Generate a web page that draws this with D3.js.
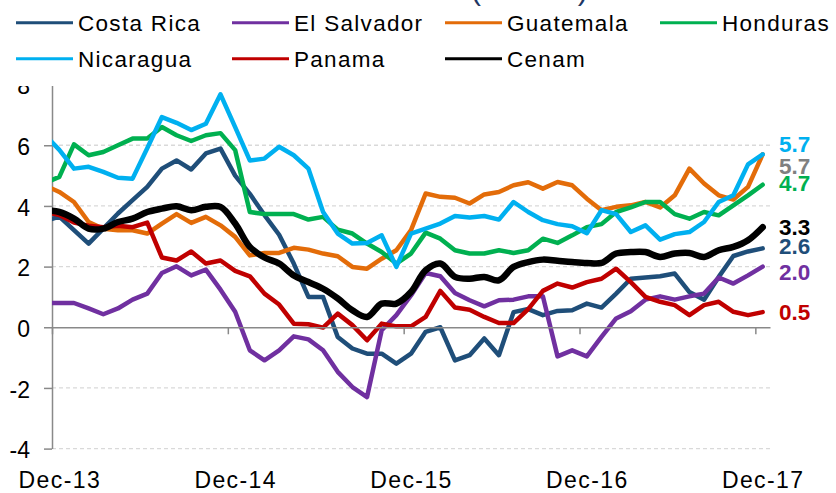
<!DOCTYPE html>
<html>
<head>
<meta charset="utf-8">
<script src="https://cdn.jsdelivr.net/npm/d3@7"></script>
<style>
body { margin: 0; background: #fff; }
svg { display: block; font-family: Arial, "Liberation Sans", sans-serif; }
</style>
</head>
<body>
<svg width="836" height="493"></svg>
<script>
// monthly categories, Nov-13 sits left of the axis and is clipped away
var months = ["Nov-13","Dec-13",
  "Jan-14","Feb-14","Mar-14","Apr-14","May-14","Jun-14","Jul-14","Aug-14","Sep-14","Oct-14","Nov-14","Dec-14",
  "Jan-15","Feb-15","Mar-15","Apr-15","May-15","Jun-15","Jul-15","Aug-15","Sep-15","Oct-15","Nov-15","Dec-15",
  "Jan-16","Feb-16","Mar-16","Apr-16","May-16","Jun-16","Jul-16","Aug-16","Sep-16","Oct-16","Nov-16","Dec-16",
  "Jan-17","Feb-17","Mar-17","Apr-17","May-17","Jun-17","Jul-17","Aug-17","Sep-17","Oct-17","Nov-17","Dec-17"];

var costaRica = [3.5,3.65,3.2,2.76,3.25,3.75,4.19,4.63,5.23,5.5,5.2,5.73,5.89,5.0,4.4,3.7,3.05,2.1,1.0,1.0,-0.32,-0.7,-0.87,-0.87,-1.2,-0.87,-0.15,0.0,-1.09,-0.92,-0.37,-0.92,0.5,0.6,0.4,0.54,0.56,0.78,0.65,1.11,1.6,1.64,1.68,1.77,1.16,0.91,1.66,2.35,2.5,2.6];
var elSalvador = [0.8,0.8,0.8,0.62,0.43,0.62,0.91,1.11,1.79,2.01,1.71,1.9,1.24,0.51,-0.76,-1.09,-0.76,-0.3,-0.4,-0.76,-1.47,-1.97,-2.3,-0.1,0.4,1.05,1.79,1.68,1.13,0.89,0.69,0.89,0.91,1.02,1.02,-0.96,-0.76,-0.96,-0.32,0.29,0.53,0.91,1.02,0.91,1.02,1.11,1.64,1.44,1.71,2.0];
var guatemala = [4.68,4.46,4.13,3.47,3.25,3.2,3.2,3.09,3.42,3.73,3.44,3.64,3.36,2.98,2.37,2.45,2.45,2.62,2.56,2.43,2.34,1.99,1.93,2.26,2.54,3.2,4.41,4.3,4.27,4.08,4.38,4.46,4.68,4.78,4.57,4.79,4.68,4.24,3.86,3.97,4.02,4.13,3.95,4.35,5.23,4.74,4.35,4.21,4.63,5.7];
var honduras = [4.75,4.96,6.03,5.67,5.78,6.0,6.22,6.22,6.6,6.33,6.14,6.33,6.4,5.84,3.8,3.73,3.73,3.73,3.55,3.64,3.22,3.09,2.76,2.48,2.1,2.43,3.12,2.92,2.54,2.43,2.43,2.54,2.45,2.54,2.92,2.78,3.03,3.3,3.4,3.8,3.95,4.13,4.13,3.73,3.58,3.8,3.69,4.02,4.35,4.7];
var nicaragua = [6.35,5.85,5.23,5.29,5.12,4.93,4.9,5.9,6.93,6.74,6.5,6.71,7.68,6.6,5.5,5.56,5.95,5.67,5.23,3.8,3.09,2.76,2.78,3.03,1.99,3.09,3.25,3.42,3.67,3.62,3.67,3.55,4.13,3.8,3.53,3.4,3.33,3.1,3.86,3.73,3.14,3.36,2.89,3.07,3.14,3.47,4.13,4.35,5.37,5.7];
var panama = [3.8,3.7,3.45,3.35,3.3,3.35,3.3,3.45,2.3,2.2,2.5,2.1,2.2,1.86,1.68,1.11,0.75,0.12,0.1,-0.01,0.45,0.07,-0.43,0.12,0.03,0.03,0.34,1.2,0.65,0.58,0.34,0.14,0.14,0.6,1.2,1.44,1.31,1.49,1.6,1.93,1.49,1.0,0.84,0.73,0.4,0.73,0.84,0.51,0.4,0.5];
var cenam = [3.85,3.8,3.58,3.25,3.25,3.47,3.58,3.8,3.91,3.99,3.86,3.97,3.97,3.42,2.65,2.3,2.1,1.71,1.49,1.27,0.95,0.56,0.34,0.78,0.78,1.16,1.88,2.1,1.66,1.6,1.66,1.55,1.99,2.15,2.23,2.19,2.15,2.12,2.12,2.43,2.48,2.48,2.32,2.43,2.45,2.32,2.54,2.65,2.87,3.3];

var yTicks = [-4, -2, 0, 2, 4, 6, 8];
var xLabelMonths = ["Dec-13", "Dec-14", "Dec-15", "Dec-16", "Dec-17"];
var endLabels = ["5.7", "5.7", "4.7", "3.3", "2.6", "2.0", "0.5"];
var endValues = [5.7, 5.7, 4.7, 3.3, 2.6, 2.0, 0.5];
var endColors = ["#00B0F0", "#808080", "#00B050", "#000000", "#1F4E79", "#7030A0", "#C00000"];
var titleText = "(% YoY)";

var series = [
  {name: "Costa Rica", values: costaRica, color: "#1F4E79", w: 4.5},
  {name: "El Salvador", values: elSalvador, color: "#7030A0", w: 4.5},
  {name: "Guatemala", values: guatemala, color: "#E36C09", w: 4.5},
  {name: "Honduras", values: honduras, color: "#00B050", w: 4.5},
  {name: "Nicaragua", values: nicaragua, color: "#00B0F0", w: 4.5},
  {name: "Panama", values: panama, color: "#C00000", w: 4.5},
  {name: "Cenam", values: cenam, color: "#000000", w: 6.5}
];

// layout
var legendX = [16, 232, 445, 660, 16, 232, 445];
var legendY = [22.7, 22.7, 22.7, 22.7, 58.7, 58.7, 58.7];
var endNudge = [-10, 12, -2, 0, -3, 5, 0];
var axisGray = "#898989";

var svg = d3.select("svg");

var x = d3.scaleLinear().domain([0.5, 49.5]).range([52, 770]);
var y = d3.scaleLinear().domain([-4, 8]).range([448.6, 84.6]);

// grid
svg.append("g").selectAll("line")
  .data(yTicks.filter(function(d) { return d != 0; }))
  .enter().append("line")
    .attr("x1", x(0.5)).attr("x2", x(49.5))
    .attr("y1", function(d) { return y(d); })
    .attr("y2", function(d) { return y(d); })
    .attr("stroke", "#d9d9d9")
    .attr("stroke-width", 1.3)
    .attr("stroke-dasharray", "4,3");

// y axis
var yAxis = svg.append("g")
  .attr("transform", "translate(" + x(0.5) + ",0)")
  .call(d3.axisLeft(y).tickValues(yTicks).tickSize(8).tickSizeOuter(0).tickPadding(14)
    .tickFormat(function(d) { return String(d); }));
yAxis.selectAll("path, line").attr("stroke", axisGray).attr("stroke-width", 1.5);
yAxis.selectAll("text")
  .attr("fill", "#000")
  .attr("dy", "0.4em")
  .style("font-size", "23px")
  .style("font-family", "Arial, 'Liberation Sans', sans-serif");

// lines, clipped to plot area
svg.append("clipPath").attr("id", "plotclip")
  .append("rect").attr("x", x(0.5)).attr("y", 0).attr("width", x(49.5) - x(0.5)).attr("height", 493);

var plot = svg.append("g").attr("clip-path", "url(#plotclip)");

series.forEach(function(s) {
  var line = d3.line()
    .x(function(d, i) { return x(i); })
    .y(function(d) { return y(d); })
    .curve(s.name == "Cenam" ? d3.curveCatmullRom.alpha(0.5) : d3.curveLinear);
  plot.append("path")
    .datum(s.values)
    .attr("d", line)
    .attr("fill", "none")
    .attr("stroke", s.color)
    .attr("stroke-width", s.w)
    .attr("stroke-linejoin", "round")
    .attr("stroke-linecap", "round");
});

// x axis at zero, ticks between categories
var tickIdx = xLabelMonths.map(function(m) { return months.indexOf(m) - 0.5; });
var xAxis = svg.append("g")
  .attr("transform", "translate(0," + y(0) + ")")
  .call(d3.axisBottom(x).tickValues(tickIdx).tickSize(7).tickSizeOuter(0).tickFormat(""));
xAxis.selectAll("path, line").attr("stroke", axisGray).attr("stroke-width", 1.5);

// month labels at the bottom
var labelAxis = svg.append("g")
  .attr("transform", "translate(0,469)")
  .call(d3.axisBottom(x)
    .tickValues(xLabelMonths.map(function(m) { return months.indexOf(m); }))
    .tickSize(0).tickPadding(3)
    .tickFormat(function(i) { return months[i]; }));
labelAxis.select(".domain").remove();
labelAxis.selectAll("text")
  .attr("fill", "#000")
  .style("font-size", "23px")
  .style("letter-spacing", "1.4px")
  .style("font-family", "Arial, 'Liberation Sans', sans-serif");

// end labels
svg.append("g").selectAll("text")
  .data(endLabels)
  .enter().append("text")
    .attr("x", 779)
    .attr("y", function(d, i) { return y(endValues[i]) + endNudge[i]; })
    .attr("dy", "0.36em")
    .attr("fill", function(d, i) { return endColors[i]; })
    .style("font-weight", "bold")
    .style("font-size", "22.5px")
    .text(function(d) { return d; });

// legend sits on a white band over the top of the plot
svg.append("rect").attr("x", 0).attr("y", 0).attr("width", 836).attr("height", 86).attr("fill", "#fff");

// title is cropped off the top, only the bracket tails show
svg.append("text")
  .attr("x", 530).attr("y", -0.5)
  .attr("text-anchor", "middle")
  .attr("fill", "#1F3864")
  .style("font-size", "30px")
  .style("letter-spacing", "1.4px")
  .text(titleText);

var legend = svg.append("g").selectAll("g")
  .data(series)
  .enter().append("g")
    .attr("transform", function(d, i) { return "translate(" + legendX[i] + "," + legendY[i] + ")"; });

legend.append("line")
  .attr("x1", 0).attr("x2", 57)
  .attr("y1", 0).attr("y2", 0)
  .attr("stroke", function(d) { return d.color; })
  .attr("stroke-width", 3);

legend.append("text")
  .attr("x", 62).attr("y", 8)
  .attr("fill", "#000")
  .style("font-size", "22.5px")
  .style("letter-spacing", "1.3px")
  .text(function(d) { return d.name; });
</script>
</body>
</html>
